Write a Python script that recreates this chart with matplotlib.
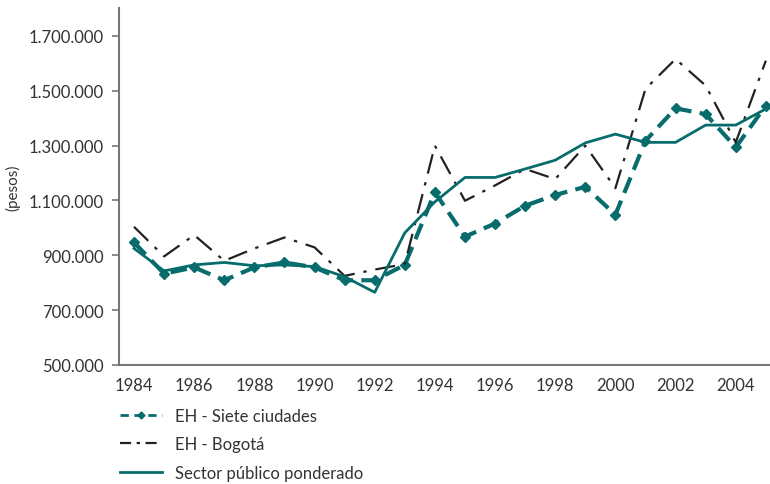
import matplotlib
matplotlib.use("Agg")
import matplotlib.pyplot as plt
from matplotlib.lines import Line2D
from matplotlib.ticker import FuncFormatter

plt.rcParams['font.family'] = ['Lato', 'DejaVu Sans']

# Datos (pesos)
years = list(range(1984, 2006))
siete_ciudades = [947000, 833000, 856000, 809000, 856000, 874000, 856000, 809000, 809000, 865000,
                  1130000, 968000, 1016000, 1081000, 1120000, 1150000, 1048000, 1318000, 1436000,
                  1415000, 1294000, 1446000]
bogota = [1004000, 896000, 974000, 880000, 925000, 965000, 929000, 825000, 848000, 868000,
          1300000, 1099000, 1155000, 1215000, 1178000, 1300000, 1145000, 1507000, 1616000,
          1519000, 1312000, 1610000]
sector_publico = [925000, 843000, 865000, 874000, 862000, 865000, 859000, 822000, 765000, 982000,
                  1095000, 1184000, 1184000, 1215000, 1247000, 1310000, 1342000, 1312000, 1312000,
                  1375000, 1375000, 1434000]
labels = ["EH - Siete ciudades", "EH - Bogotá", "Sector público ponderado"]
x_ticks = list(range(1984, 2005, 2))
y_ticks = [500000, 700000, 900000, 1100000, 1300000, 1500000, 1700000]

teal = "#086c6c"
text_col = "#333333"
siete_ls = (0, (4, 2))
bogota_ls = (0, (9, 4, 1.5, 4))

fig = plt.figure(figsize=(7.7, 4.85), dpi=100)
ax = fig.add_axes([0.1545, 0.2454, 0.844, 0.736])

ax.plot(years, siete_ciudades, color=teal, linewidth=3, linestyle=siete_ls,
        marker="D", markersize=5.5)
ax.plot(years, bogota, color="#222222", linewidth=1.6, linestyle=bogota_ls)
ax.plot(years, sector_publico, color=teal, linewidth=2)

ax.set_xlim(1983.5, 2005.1)
ax.set_ylim(500000, 1802000)
ax.set_xticks(x_ticks)
ax.set_yticks(y_ticks)
ax.yaxis.set_major_formatter(FuncFormatter(lambda v, p: f"{int(v):,}".replace(",", ".")))

for s in ["top", "right"]:
    ax.spines[s].set_visible(False)
for s in ["left", "bottom"]:
    ax.spines[s].set_color("#777777")
    ax.spines[s].set_linewidth(1.5)

ax.tick_params(axis="x", length=0, labelsize=12, labelcolor=text_col, pad=9)
ax.tick_params(axis="y", length=5, width=1.2, color="#777777", labelsize=12,
               labelcolor=text_col, pad=6)

ax.set_ylabel("(pesos)", fontsize=11, color=text_col, labelpad=6)

# leyenda con trazos más finos, como en el original
handles = [
    Line2D([], [], color=teal, linewidth=2, linestyle=(0, (3, 2)), marker="D", markersize=3.5,
           markevery=[1]),
    Line2D([], [], color="#222222", linewidth=1.6, linestyle=(0, (5, 2.5, 1.5, 2.5))),
    Line2D([], [], color=teal, linewidth=2),
]
fig.legend(handles, labels, loc="upper left", bbox_to_anchor=(0.147, 0.171), frameon=False,
           fontsize=12, handlelength=2.5, handletextpad=0.8, labelspacing=0.75,
           labelcolor=text_col, borderaxespad=0)

plt.savefig("out.png", dpi=100)
